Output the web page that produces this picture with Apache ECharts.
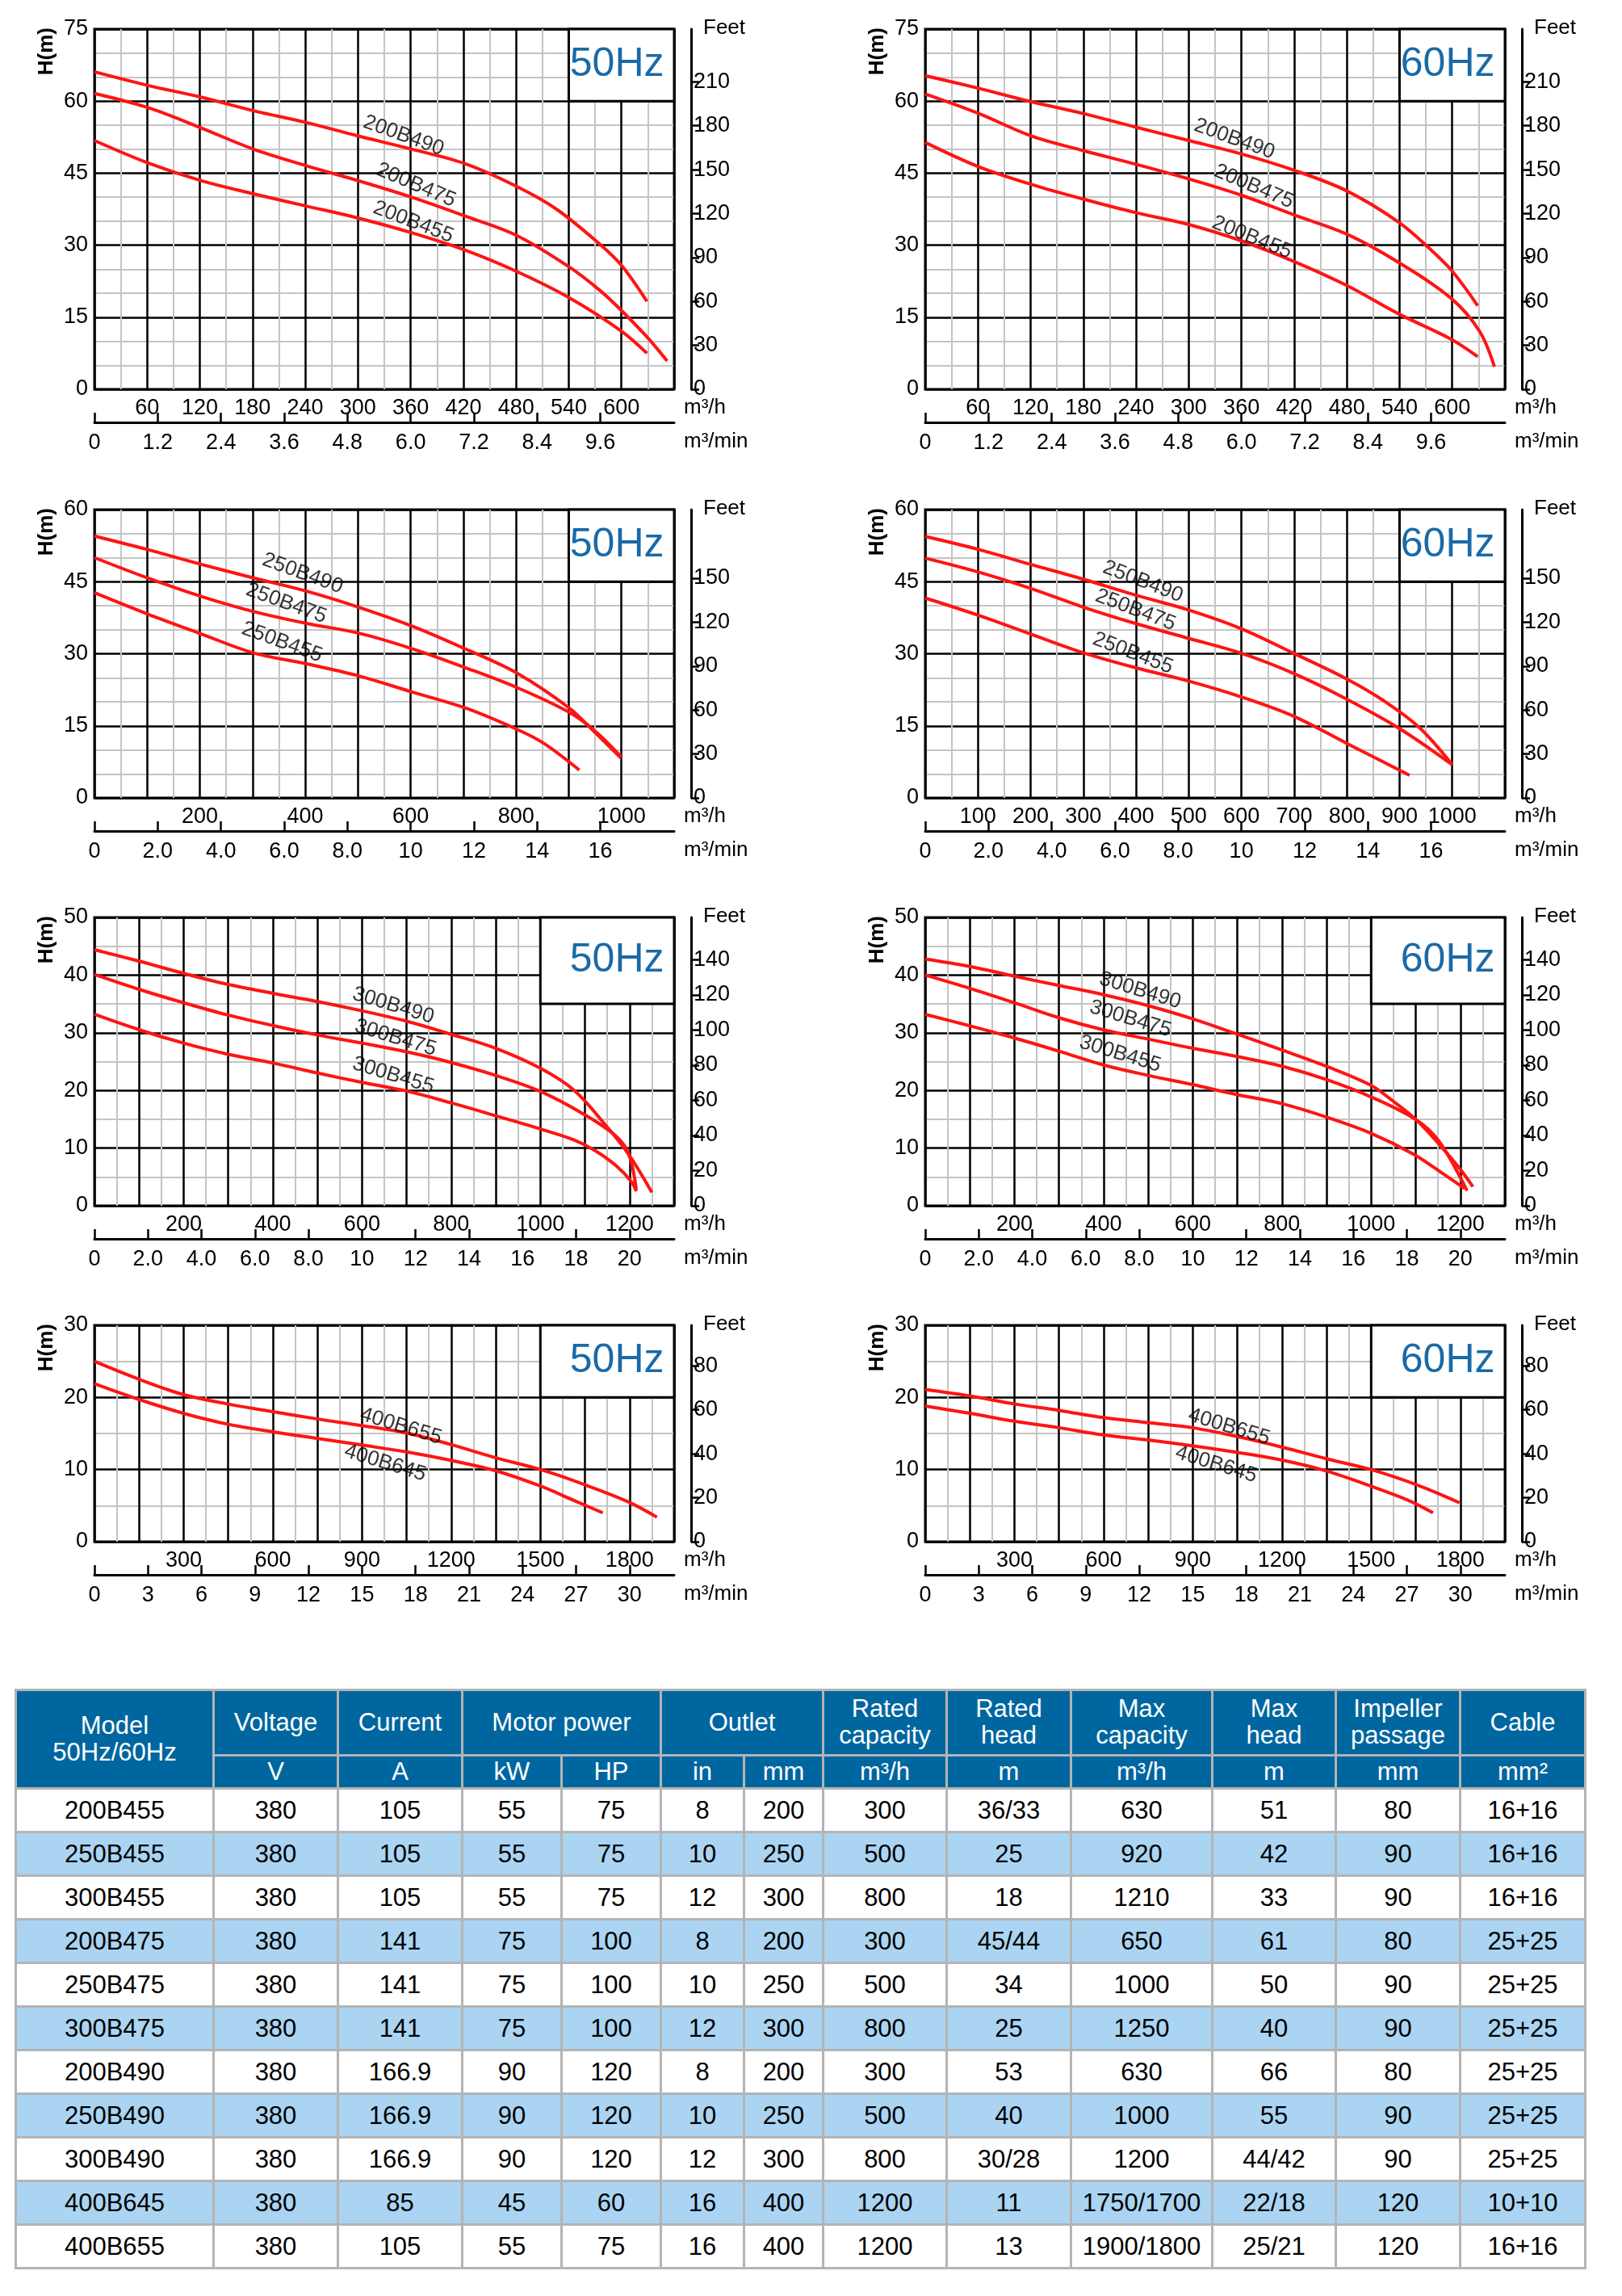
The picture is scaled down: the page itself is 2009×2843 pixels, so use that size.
<!DOCTYPE html>
<html>
<head>
<meta charset="utf-8">
<script src="https://cdn.jsdelivr.net/npm/echarts@6/dist/echarts.min.js"></script>
<style>
  body { margin: 0; background: #fff; width: 2009px; height: 2843px; position: relative; overflow: hidden; }
  #chart { position: absolute; left: 0; top: 0; width: 2009px; height: 2080px; }
  #spec { position: absolute; left: 18px; top: 2091px; border-collapse: collapse; table-layout: fixed;
          font-family: "Liberation Sans Narrow", "Liberation Sans", Arial, sans-serif; font-size: 31px; }
  #spec td, #spec th { border: 3px solid #b4b4b4; text-align: center; padding: 0; font-weight: normal; }
  #spec th { background: #0066a0; color: #fff; line-height: 1.05; }
  #spec tr.hd1 th { height: 78px; }
  #spec tr.hd2 th { height: 38px; }
  #spec td { height: 51px; color: #000; }
  #spec tr.alt td { background: #aad4f2; }
</style>
</head>
<body>
<div id="chart"></div>
<table id="spec"></table>
<script>
// ---- curve data [m3/h, m] ----
var c200B490_50 = [[0,66.1],[60,63.3],[122,60.8],[181,58.0],[240,55.6],[299,52.8],[361,50.0],[423,46.9],[481,42.2],[526,37.5],[576,30.1],[600,25.8],[629,18.3]];
var c200B475_50 = [[0,61.6],[60,58.7],[119,54.6],[181,50.0],[240,46.6],[299,43.5],[361,40.0],[423,36.0],[481,32.0],[541,25.4],[576,20.5],[600,16.4],[629,10.9],[652,5.9]];
var c200B455_50 = [[0,51.8],[60,47.2],[122,43.4],[181,40.7],[240,38.2],[299,35.7],[361,32.6],[423,28.9],[481,24.5],[541,19.0],[600,12.1],[629,7.5]];

var c250B490_50 = [[0,54.5],[100,51.7],[203,48.6],[301,45.8],[403,43.0],[501,39.7],[604,35.7],[704,31.0],[803,25.9],[901,18.7],[950,13.6],[999,8.3]];
var c250B475_50 = [[0,50.0],[100,45.8],[203,41.9],[301,38.8],[403,36.3],[501,34.3],[604,31.0],[704,27.1],[803,22.9],[901,17.8],[950,13.9],[999,8.6]];
var c250B455_50 = [[0,42.7],[100,38.3],[203,34.1],[301,30.2],[403,27.9],[501,25.4],[604,22.0],[704,18.7],[803,14.2],[852,11.4],[920,5.8]];

var c300B490_50 = [[0,44.4],[101,42.4],[200,40.3],[298,38.4],[403,36.8],[501,35.4],[600,33.8],[705,31.9],[797,29.8],[900,27.3],[1001,23.8],[1076,20.0],[1146,14.0],[1198,8.9],[1250,2.3]];
var c300B475_50 = [[0,40.1],[101,37.5],[200,35.2],[298,33.1],[403,31.2],[501,29.6],[600,28.2],[705,26.6],[797,24.9],[900,22.6],[1001,19.8],[1099,15.8],[1169,12.1],[1198,9.0],[1215,2.8]];
var c300B455_50 = [[0,33.2],[101,30.5],[200,28.2],[298,26.3],[403,24.7],[501,23.0],[600,21.4],[705,19.8],[797,17.9],[900,15.6],[1001,13.3],[1076,11.4],[1122,9.6],[1169,7.0],[1204,4.2],[1215,2.5]];

var c400B655_50 = [[0,25.0],[151,22.5],[299,20.4],[447,19.1],[604,18.0],[752,17.0],[900,16.1],[1057,15.0],[1196,13.5],[1353,11.6],[1501,10.0],[1649,7.9],[1797,5.5],[1892,3.4]];
var c400B645_50 = [[0,21.9],[151,19.7],[299,17.8],[447,16.3],[604,15.2],[752,14.3],[900,13.4],[1057,12.4],[1196,11.3],[1353,9.8],[1501,7.7],[1614,5.7],[1710,4.0]];

var c200B490_60 = [[0,65.3],[60,62.7],[120,59.9],[180,57.4],[239,54.6],[300,51.8],[360,49.0],[420,45.6],[480,41.3],[539,34.8],[573,29.5],[599,24.8],[629,17.4]];
var c200B475_60 = [[0,61.5],[60,57.5],[120,52.8],[180,49.7],[239,46.9],[300,43.8],[360,40.4],[420,36.3],[480,32.3],[539,26.4],[599,18.9],[631,12.1],[648,4.7]];
var c200B455_60 = [[0,51.4],[60,46.4],[120,42.7],[180,39.6],[239,36.8],[300,34.3],[360,30.9],[420,26.6],[480,21.6],[539,15.7],[599,10.4],[629,6.8]];

var c250B490_60 = [[0,54.4],[101,51.7],[200,48.6],[300,45.5],[399,42.2],[500,39.1],[600,35.2],[699,30.1],[799,24.8],[869,20.3],[937,14.7],[1000,6.9]];
var c250B475_60 = [[0,49.9],[101,47.0],[200,43.6],[300,39.7],[399,36.3],[500,33.2],[600,30.1],[699,25.9],[799,20.6],[899,14.5],[1000,6.9]];
var c250B455_60 = [[0,41.6],[101,38.0],[200,34.1],[300,30.2],[399,27.1],[500,24.3],[600,21.0],[699,17.0],[799,11.4],[919,4.7]];

var c300B490_60 = [[0,42.8],[100,41.5],[200,39.8],[300,38.2],[400,36.6],[500,34.7],[600,32.4],[698,29.8],[800,27.0],[899,24.2],[999,20.9],[1050,18.1],[1101,14.9],[1152,10.7],[1198,6.5],[1228,3.3]];
var c300B475_60 = [[0,40.0],[100,37.7],[200,35.2],[300,32.6],[400,30.5],[500,28.9],[600,27.3],[698,25.9],[800,24.2],[899,21.9],[999,18.9],[1101,14.9],[1152,11.2],[1215,2.6]];
var c300B455_60 = [[0,33.2],[100,31.2],[200,29.1],[300,26.8],[400,24.4],[500,22.6],[600,21.0],[698,19.3],[800,17.7],[899,15.4],[999,12.6],[1096,8.9],[1164,5.4],[1209,3.0]];

var c400B655_60 = [[0,21.1],[150,20.2],[300,19.1],[450,18.2],[599,17.2],[749,16.5],[899,15.8],[1047,14.6],[1201,13.1],[1349,11.5],[1499,10.0],[1652,7.9],[1797,5.4]];
var c400B645_60 = [[0,18.8],[150,17.8],[300,16.7],[450,15.8],[599,14.8],[749,14.1],[899,13.3],[1047,12.4],[1201,11.3],[1349,9.8],[1499,7.7],[1627,5.7],[1708,4.0]];

// ---- tick labels ----
var flow200 = [60,120,180,240,300,360,420,480,540,600];
var flow250_50 = [200,400,600,800,1000];
var flow250_60 = [100,200,300,400,500,600,700,800,900,1000];
var flow300 = [200,400,600,800,1000,1200];
var flow400 = [300,600,900,1200,1500,1800];
var min200 = [0,1.2,2.4,3.6,4.8,6.0,7.2,8.4,9.6];
var min250 = [0,2,4,6,8,10,12,14,16];
var min300 = [0,2,4,6,8,10,12,14,16,18,20];
var min400 = [0,3,6,9,12,15,18,21,24,27,30];
var feet200 = [0,30,60,90,120,150,180,210];
var feet250 = [0,30,60,90,120,150];
var feet300 = [0,20,40,60,80,100,120,140];
var feet400 = [0,20,40,60,80];

// curve label positions are [m3/h, m]
var panels = [
  { col:0, row:0, xMax:660, xStep:60, xMinor:2, yMax:75, yStep:15, yMinor:3, flow:flow200, mins:min200, minInt:false, feet:feet200, hz:'50Hz', box:[540,660,60,75],
    curves:[['200B490',c200B490_50,[352,52.8],-20],['200B475',c200B475_50,[366,42.5],-23],['200B455',c200B455_50,[363,34.8],-21]] },
  { col:1, row:0, xMax:660, xStep:60, xMinor:2, yMax:75, yStep:15, yMinor:3, flow:flow200, mins:min200, minInt:false, feet:feet200, hz:'60Hz', box:[540,660,60,75],
    curves:[['200B490',c200B490_60,[352,52.1],-20],['200B475',c200B475_60,[374,42.2],-23],['200B455',c200B455_60,[372,31.6],-22]] },
  { col:0, row:1, xMax:1100, xStep:100, xMinor:2, yMax:60, yStep:15, yMinor:3, flow:flow250_50, mins:min250, minInt:false, feet:feet250, hz:'50Hz', box:[900,1100,45,60],
    curves:[['250B490',c250B490_50,[395,46.7],-20],['250B475',c250B475_50,[364,40.5],-20],['250B455',c250B455_50,[356,32.4],-20]] },
  { col:1, row:1, xMax:1100, xStep:100, xMinor:2, yMax:60, yStep:15, yMinor:3, flow:flow250_60, mins:min250, minInt:false, feet:feet250, hz:'60Hz', box:[900,1100,45,60],
    curves:[['250B490',c250B490_60,[413,45.0],-21],['250B475',c250B475_60,[399,39.1],-21],['250B455',c250B455_60,[394,30.1],-21]] },
  { col:0, row:2, xMax:1300, xStep:100, xMinor:2, yMax:50, yStep:10, yMinor:2, flow:flow300, mins:min300, minInt:false, feet:feet300, hz:'50Hz', box:[1000,1300,35,50],
    curves:[['300B490',c300B490_50,[670,34.7],-17],['300B475',c300B475_50,[675,29.1],-17],['300B455',c300B455_50,[670,22.6],-17]] },
  { col:1, row:2, xMax:1300, xStep:100, xMinor:2, yMax:50, yStep:10, yMinor:2, flow:flow300, mins:min300, minInt:false, feet:feet300, hz:'60Hz', box:[1000,1300,35,50],
    curves:[['300B490',c300B490_60,[482,37.3],-17],['300B475',c300B475_60,[460,32.4],-17],['300B455',c300B455_60,[437,26.3],-17]] },
  { col:0, row:3, xMax:1950, xStep:150, xMinor:2, yMax:30, yStep:10, yMinor:2, flow:flow400, mins:min400, minInt:true, feet:feet400, hz:'50Hz', box:[1500,1950,20,30],
    curves:[['400B655',c400B655_50,[1031,16.0],-17],['400B645',c400B645_50,[978,10.9],-17]] },
  { col:1, row:3, xMax:1950, xStep:150, xMinor:2, yMax:30, yStep:10, yMinor:2, flow:flow400, mins:min400, minInt:true, feet:feet400, hz:'60Hz', box:[1500,1950,20,30],
    curves:[['400B655',c400B655_60,[1022,15.9],-17],['400B645',c400B645_60,[979,10.7],-17]] }
];

// ---- table ----
var tblHead1 = ['Model<br>50Hz/60Hz','Voltage','Current','Motor power','Outlet','Rated<br>capacity','Rated<br>head','Max<br>capacity','Max<br>head','Impeller<br>passage','Cable'];
var tblHead1Span = [1,1,1,2,2,1,1,1,1,1,1];
var tblHead2 = ['V','A','kW','HP','in','mm','m³/h','m','m³/h','m','mm','mm²'];
var tblRows = [
  ['200B455','380','105','55','75','8','200','300','36/33','630','51','80','16+16'],
  ['250B455','380','105','55','75','10','250','500','25','920','42','90','16+16'],
  ['300B455','380','105','55','75','12','300','800','18','1210','33','90','16+16'],
  ['200B475','380','141','75','100','8','200','300','45/44','650','61','80','25+25'],
  ['250B475','380','141','75','100','10','250','500','34','1000','50','90','25+25'],
  ['300B475','380','141','75','100','12','300','800','25','1250','40','90','25+25'],
  ['200B490','380','166.9','90','120','8','200','300','53','630','66','80','25+25'],
  ['250B490','380','166.9','90','120','10','250','500','40','1000','55','90','25+25'],
  ['300B490','380','166.9','90','120','12','300','800','30/28','1200','44/42','90','25+25'],
  ['400B645','380','85','45','60','16','400','1200','11','1750/1700','22/18','120','10+10'],
  ['400B655','380','105','55','75','16','400','1200','13','1900/1800','25/21','120','16+16']
];
var colW = [245,154,154,123,123,103,98,153,154,175,153,154,155];

(function buildTable() {
  var t = document.getElementById('spec');
  var html = '<colgroup>' + colW.map(function (w) { return '<col style="width:' + w + 'px">'; }).join('') + '</colgroup>';
  html += '<tr class="hd1">';
  tblHead1.forEach(function (h, i) {
    if (i === 0) html += '<th rowspan="2">' + h + '</th>';
    else if (tblHead1Span[i] > 1) html += '<th colspan="' + tblHead1Span[i] + '">' + h + '</th>';
    else html += '<th>' + h + '</th>';
  });
  html += '</tr><tr class="hd2">' + tblHead2.map(function (h) { return '<th>' + h + '</th>'; }).join('') + '</tr>';
  tblRows.forEach(function (r, i) {
    html += '<tr class="' + (i % 2 ? 'alt' : '') + '">' + r.map(function (c) { return '<td>' + c + '</td>'; }).join('') + '</tr>';
  });
  t.innerHTML = html;
})();

// ---- layout ----
var colLeft = [117, 1146];
var plotW = 718;
var rowTop = [36, 631, 1136, 1641];
var rowH = [446, 357, 357, 268];
var FONT = '"Liberation Sans Narrow", "Liberation Sans", Arial, sans-serif';
var M2FT = 3.2808;

var grids = [], xAxes = [], yAxes = [], series = [], graphics = [];

function txt(left, top, text, size, bold) {
  return { type: 'text', left: left, top: top, silent: true,
    style: { text: text, font: (bold ? 'bold ' : '') + size + 'px ' + FONT, fill: '#000' } };
}

panels.forEach(function (p, i) {
  var left = colLeft[p.col], top = rowTop[p.row], h = rowH[p.row];
  grids.push({ left: left, top: top, width: plotW, height: h, show: true, borderColor: '#000', borderWidth: 3, backgroundColor: 'transparent' });

  // m3/h axis
  xAxes.push({
    gridIndex: i, type: 'value', min: 0, max: p.xMax, interval: p.xStep,
    axisLine: { show: false, onZero: false }, axisTick: { show: false },
    axisLabel: { customValues: p.flow, fontFamily: FONT, fontSize: 27, color: '#000', margin: 10,
      formatter: function (v) { return String(v); } },
    splitLine: { show: true, lineStyle: { color: '#000', width: 2.5 } },
    minorTick: { show: false, splitNumber: p.xMinor },
    minorSplitLine: { show: true, lineStyle: { color: '#c4c4c4', width: 2 } }
  });
  // m3/min axis
  xAxes.push({
    gridIndex: i, type: 'value', position: 'bottom', offset: 41, min: 0, max: p.xMax / 60,
    axisLine: { show: true, onZero: false, lineStyle: { color: '#000', width: 3 } },
    axisTick: { show: true, inside: true, length: 12, customValues: p.mins, lineStyle: { color: '#000', width: 2.5 } },
    axisLabel: { customValues: p.mins, fontFamily: FONT, fontSize: 27, color: '#000', margin: 12,
      formatter: function (v) { return (v === 0 || p.minInt || v >= 10) ? String(Math.round(v)) : v.toFixed(1); } },
    splitLine: { show: false }
  });
  // H axis
  yAxes.push({
    gridIndex: i, type: 'value', min: 0, max: p.yMax, interval: p.yStep,
    axisLine: { show: false, onZero: false }, axisTick: { show: false },
    axisLabel: { fontFamily: FONT, fontSize: 27, color: '#000', margin: 8 },
    splitLine: { show: true, lineStyle: { color: '#000', width: 2.5 } },
    minorTick: { show: false, splitNumber: p.yMinor },
    minorSplitLine: { show: true, lineStyle: { color: '#c4c4c4', width: 2 } }
  });
  // Feet axis
  yAxes.push({
    gridIndex: i, type: 'value', position: 'right', offset: 21, min: 0, max: p.yMax * M2FT,
    axisLine: { show: true, onZero: false, lineStyle: { color: '#000', width: 3 } },
    axisTick: { show: true, length: 10, customValues: p.feet, lineStyle: { color: '#000', width: 2.5 } },
    axisLabel: { customValues: p.feet, fontFamily: FONT, fontSize: 27, color: '#000', margin: 3 },
    splitLine: { show: false }
  });

  p.curves.forEach(function (c, k) {
    var s = {
      type: 'line', name: c[0], xAxisIndex: i * 2, yAxisIndex: i * 2, data: c[1],
      smooth: 0.35, showSymbol: false, symbol: 'none', silent: true, z: 5,
      lineStyle: { color: '#ff1414', width: 4 }
    };
    if (k === 0) {
      s.markArea = {
        silent: true,
        itemStyle: { color: '#fff', borderColor: '#000', borderWidth: 3 },
        label: { show: true, position: 'insideRight', distance: 14, formatter: p.hz,
          fontFamily: FONT, fontSize: 50, color: '#1a6aa6' },
        data: [[{ xAxis: p.box[0], yAxis: p.box[2] }, { xAxis: p.box[1], yAxis: p.box[3] }]]
      };
    }
    series.push(s);
    series.push({
      type: 'scatter', xAxisIndex: i * 2, yAxisIndex: i * 2, symbolSize: 0, silent: true, z: 6,
      data: [{ value: c[2], name: c[0] }],
      label: { show: true, position: 'inside', formatter: '{b}', rotate: c[3],
        fontFamily: FONT, fontSize: 26, color: '#000' }
    });
  });

  graphics.push({
    type: 'text', left: left - 72, top: top - 2, rotation: Math.PI / 2, silent: true,
    style: { text: 'H(m)', font: 'bold 26px ' + FONT, fill: '#000' }
  });
  graphics.push(txt(left + plotW + 36, top - 14, 'Feet', 26, false));
  graphics.push(txt(left + plotW + 12, top + h + 10, 'm³/h', 26, false));
  graphics.push(txt(left + plotW + 12, top + h + 52, 'm³/min', 26, false));
});

var myChart = echarts.init(document.getElementById('chart'));
myChart.setOption({
  animation: false,
  backgroundColor: '#fff',
  grid: grids,
  xAxis: xAxes,
  yAxis: yAxes,
  series: series,
  graphic: graphics
});
</script>
</body>
</html>
